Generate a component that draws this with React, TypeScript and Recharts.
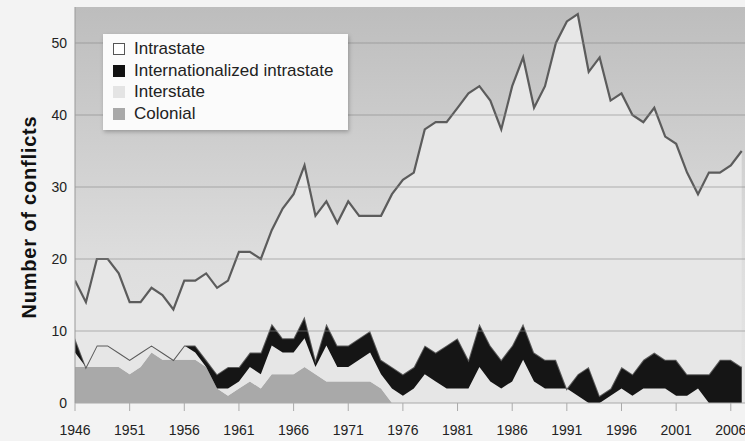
import { AreaChart, Area, XAxis, YAxis, CartesianGrid, ReferenceLine } from 'recharts';

const years = [
  1946, 1947, 1948, 1949, 1950, 1951, 1952, 1953, 1954, 1955,
  1956, 1957, 1958, 1959, 1960, 1961, 1962, 1963, 1964, 1965,
  1966, 1967, 1968, 1969, 1970, 1971, 1972, 1973, 1974, 1975,
  1976, 1977, 1978, 1979, 1980, 1981, 1982, 1983, 1984, 1985,
  1986, 1987, 1988, 1989, 1990, 1991, 1992, 1993, 1994, 1995,
  1996, 1997, 1998, 1999, 2000, 2001, 2002, 2003, 2004, 2005,
  2006, 2007,
];

const colonial = [
  5, 5, 5, 5, 5, 4, 5, 7, 6, 6,
  6, 6, 5, 2, 1, 2, 3, 2, 4, 4,
  4, 5, 4, 3, 3, 3, 3, 3, 2, 0,
  0, 0, 0, 0, 0, 0, 0, 0, 0, 0,
  0, 0, 0, 0, 0, 0, 0, 0, 0, 0,
  0, 0, 0, 0, 0, 0, 0, 0, 0, 0,
  0, 0,
];

const interstate = [
  2, 0, 3, 3, 2, 2, 2, 1, 1, 0,
  2, 1, 0, 0, 1, 1, 2, 2, 4, 3,
  3, 4, 1, 5, 2, 2, 3, 4, 2, 2,
  1, 2, 4, 3, 2, 2, 2, 5, 3, 2,
  3, 6, 3, 2, 2, 2, 1, 0, 0, 1,
  2, 1, 2, 2, 2, 1, 1, 2, 0, 0,
  0, 0,
];

const internationalized = [
  2, 0, 0, 0, 0, 0, 0, 0, 0, 0,
  0, 1, 1, 2, 3, 2, 2, 3, 3, 2,
  2, 3, 1, 3, 3, 3, 3, 3, 2, 3,
  3, 3, 4, 4, 6, 7, 4, 6, 5, 4,
  5, 5, 4, 4, 4, 0, 3, 5, 1, 1,
  3, 3, 4, 5, 4, 5, 3, 2, 4, 6,
  6, 5,
];

const intrastate = [
  8, 9, 12, 12, 11, 8, 7, 8, 8, 7,
  9, 9, 12, 12, 12, 16, 14, 13, 13, 18,
  20, 21, 20, 17, 17, 20, 17, 16, 20, 24,
  27, 27, 30, 32, 31, 32, 37, 33, 34, 32,
  36, 37, 34, 38, 44, 51, 50, 41, 47, 40,
  38, 36, 33, 34, 31, 30, 28, 25, 28, 26,
  27, 30,
];

const xTicks = [1946, 1951, 1956, 1961, 1966, 1971, 1976, 1981, 1986, 1991, 1996, 2001, 2006];
const yTicks = [0, 10, 20, 30, 40, 50];
const gridValues = [10, 20, 30, 40, 50];

const data = years.map((year, i) => ({
  year,
  colonial: colonial[i],
  interstate: interstate[i],
  internationalized: internationalized[i],
  intrastate: intrastate[i],
}));

const legendItems = [
  { name: 'Intrastate', fill: '#ffffff', border: '1.5px solid #555' },
  { name: 'Internationalized intrastate', fill: '#111111', border: '1.5px solid #111' },
  { name: 'Interstate', fill: '#e4e4e4', border: '1.5px solid #e4e4e4' },
  { name: 'Colonial', fill: '#a9a9a9', border: '1.5px solid #a9a9a9' },
];

const font = '"Liberation Sans", Arial, sans-serif';

function LegendBox() {
  return (
    <div
      style={{
        position: 'absolute',
        left: 103,
        top: 34,
        width: 245,
        height: 96,
        boxSizing: 'border-box',
        background: '#fbfbfb',
        boxShadow: '1px 2px 4px rgba(0,0,0,0.25)',
        padding: '4px 0 0 10px',
        fontFamily: font,
        fontSize: 17,
        color: '#222',
      }}
    >
      {legendItems.map((item) => (
        <div key={item.name} style={{ display: 'flex', alignItems: 'center', height: 21.7 }}>
          <span
            style={{
              display: 'inline-block',
              width: 10,
              height: 10,
              background: item.fill,
              border: item.border,
              marginRight: 9,
            }}
          />
          <span>{item.name}</span>
        </div>
      ))}
    </div>
  );
}

function AxisTitle() {
  return (
    <text
      x={29}
      y={217}
      transform="rotate(-90 29 217)"
      textAnchor="middle"
      dominantBaseline="central"
      fontFamily={font}
      fontSize={20}
      fontWeight="bold"
      letterSpacing={0.8}
      fill="#111"
    >
      Number of conflicts
    </text>
  );
}

export default function App() {
  return (
    <div style={{ position: 'absolute', left: 0, top: 0, width: 745, height: 441, background: '#f3f3f3', overflow: 'hidden' }}>
      <AreaChart
        width={745}
        height={441}
        data={data}
        margin={{ top: 7, right: 0, bottom: 0, left: 0 }}
      >
        <defs>
          <linearGradient id="bg" x1="0" y1="0" x2="0" y2="1">
            <stop offset="0%" stopColor="#bdbdbd" />
            <stop offset="65%" stopColor="#dedede" />
            <stop offset="100%" stopColor="#e6e6e6" />
          </linearGradient>
        </defs>
        <CartesianGrid fill="url(#bg)" vertical={false} horizontal={false} stroke="none" />
        <XAxis
          dataKey="year"
          type="number"
          domain={[1946, 2007.3]}
          allowDataOverflow
          ticks={xTicks}
          height={38}
          tickSize={8}
          tickMargin={14}
          stroke="#aaa"
          tick={{ fontFamily: font, fontSize: 14, fill: '#222' }}
        />
        <YAxis
          width={75}
          domain={[0, 55]}
          ticks={yTicks}
          tickLine={false}
          stroke="#999"
          tick={{ fontFamily: font, fontSize: 14, fill: '#222' }}
          label={<AxisTitle />}
        />
        <Area
          type="linear"
          dataKey="colonial"
          name="Colonial"
          stackId="a"
          fill="#a9a9a9"
          fillOpacity={1}
          stroke="none"
          isAnimationActive={false}
        />
        <Area
          type="linear"
          dataKey="interstate"
          name="Interstate"
          stackId="a"
          fill="#e6e6e6"
          fillOpacity={1}
          stroke="none"
          isAnimationActive={false}
        />
        <Area
          type="linear"
          dataKey="internationalized"
          name="Internationalized intrastate"
          stackId="a"
          fill="#151515"
          fillOpacity={1}
          stroke="#5a5a5a"
          strokeWidth={2}
          isAnimationActive={false}
        />
        <Area
          type="linear"
          dataKey="intrastate"
          name="Intrastate"
          stackId="a"
          fill="#e7e7e7"
          fillOpacity={1}
          stroke="#5c5c5c"
          strokeWidth={2.2}
          isAnimationActive={false}
        />
        {gridValues.map((v) => (
          <ReferenceLine key={v} y={v} stroke="#888" strokeOpacity={0.3} strokeWidth={2} />
        ))}
      </AreaChart>
      <LegendBox />
    </div>
  );
}
